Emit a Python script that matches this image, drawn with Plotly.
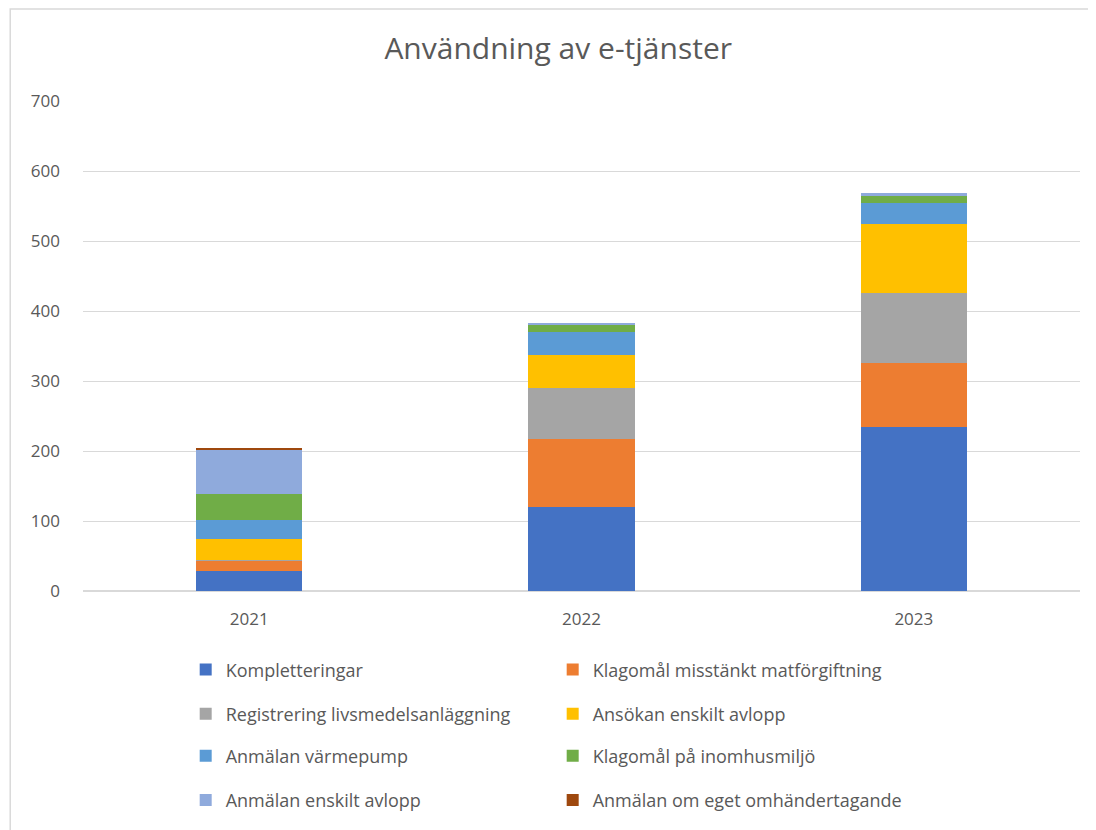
import plotly.graph_objects as go

# data
years = ["2021", "2022", "2023"]
series_names = [
    "Kompletteringar",
    "Klagomål misstänkt matförgiftning",
    "Registrering livsmedelsanläggning",
    "Ansökan enskilt avlopp",
    "Anmälan värmepump",
    "Klagomål på inomhusmiljö",
    "Anmälan enskilt avlopp",
    "Anmälan om eget omhändertagande",
]
kompletteringar = [29, 120, 234]
klagomal_mat = [14, 97, 92]
registrering = [2, 73, 100]
ansokan_avlopp = [30, 47, 98]
anmalan_varmepump = [27, 33, 30]
klagomal_inomhus = [36, 11, 10]
anmalan_avlopp = [63, 2, 5]
anmalan_eget = [3, 0, 0]
y_ticks = [0, 100, 200, 300, 400, 500, 600, 700]

COLORS = ['#4472c4', '#ed7d31', '#a5a5a5', '#ffc000',
          '#5b9bd5', '#70ad47', '#8faadc', '#9e480e']
TEXT = '#595959'
FONT = 'Open Sans, Noto Sans, sans-serif'

values = [kompletteringar, klagomal_mat, registrering, ansokan_avlopp,
          anmalan_varmepump, klagomal_inomhus, anmalan_avlopp, anmalan_eget]

# two legend entries per row, one legend per row to get Excel-like spacing
legend_names = ['legend', 'legend', 'legend2', 'legend2',
                'legend3', 'legend3', 'legend4', 'legend4']

fig = go.Figure()
for name, vals, color, lg in zip(series_names, values, COLORS, legend_names):
    fig.add_trace(go.Bar(
        x=years, y=vals, name=name,
        marker=dict(color=color, line=dict(width=0)),
        legend=lg,
    ))

row_y = [-0.161, -0.251, -0.337, -0.427]
legend_style = dict(
    orientation='h', x=0.103, xanchor='left', yanchor='middle',
    entrywidth=322, entrywidthmode='pixels', traceorder='normal',
    font=dict(family=FONT, size=18, color=TEXT),
    itemwidth=30, bgcolor='rgba(0,0,0,0)',
)

fig.update_layout(
    width=1096, height=830,
    barmode='stack', bargap=0.68,
    paper_bgcolor='white', plot_bgcolor='white',
    # page body has an 8px margin, so the figure starts at (8, 8)
    margin=dict(l=75, r=24, t=93, b=247),
    title=dict(text='Användning av e-tjänster', x=0.502, xanchor='center',
               y=0.951, yanchor='middle',
               font=dict(family=FONT, size=30, color=TEXT)),
    font=dict(family=FONT, color=TEXT),
    xaxis=dict(showgrid=False, showline=False, ticks='',
               ticklabelstandoff=16,
               tickfont=dict(family=FONT, size=17, color=TEXT)),
    yaxis=dict(range=[0, 700], tickvals=y_ticks, showgrid=True,
               gridcolor='#d9d9d9', gridwidth=1, zeroline=True,
               zerolinecolor='#d9d9d9', ticks='', ticklabelstandoff=22,
               tickfont=dict(family=FONT, size=17, color=TEXT)),
    legend=dict(y=row_y[0], **legend_style),
    legend2=dict(y=row_y[1], **legend_style),
    legend3=dict(y=row_y[2], **legend_style),
    legend4=dict(y=row_y[3], **legend_style),
    shapes=[dict(type='rect', xref='paper', yref='paper',
                 x0=-0.073, x1=1.2, y0=-0.6, y1=1.188,
                 line=dict(color='#d9d9d9', width=1.5), layer='below')],
)

fig.write_html("out.html")
